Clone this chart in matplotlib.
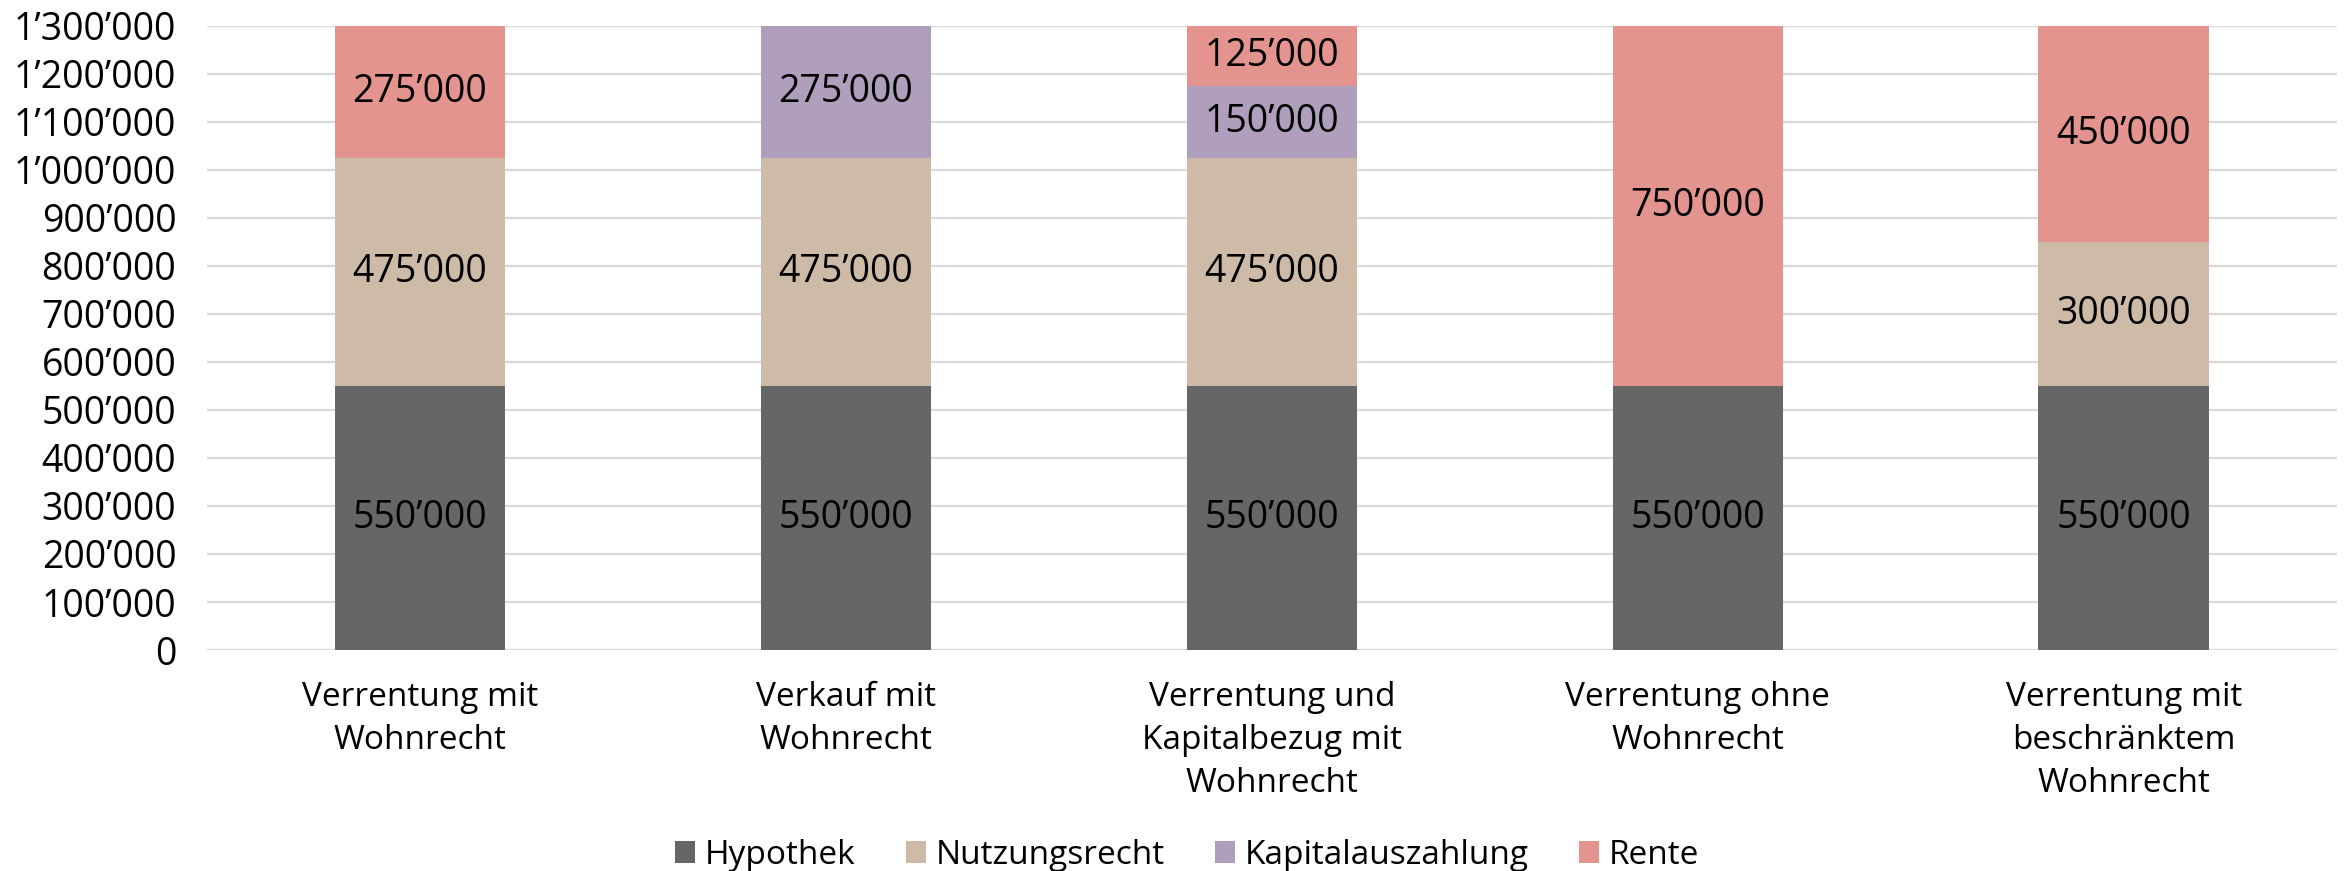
import numpy as np
import matplotlib
matplotlib.use("Agg")
import matplotlib.pyplot as plt

plt.rcParams['font.family'] = ['Open Sans', 'DejaVu Sans']

categories = ['Verrentung mit\nWohnrecht', 'Verkauf mit\nWohnrecht',
              'Verrentung und\nKapitalbezug mit\nWohnrecht', 'Verrentung ohne\nWohnrecht',
              'Verrentung mit\nbeschränktem\nWohnrecht']
series_names = ['Hypothek', 'Nutzungsrecht', 'Kapitalauszahlung', 'Rente']
hypothek = [550000, 550000, 550000, 550000, 550000]
nutzungsrecht = [475000, 475000, 475000, 0, 300000]
kapitalauszahlung = [0, 275000, 150000, 0, 0]
rente = [275000, 0, 125000, 750000, 450000]
yticks = np.arange(0, 1300001, 100000)

colors = ['#666666', '#cdbba8', '#af9fbd', '#e4948f']


def fmt(v):
    return f"{int(v):,}".replace(",", "\u2019")


fig = plt.figure(figsize=(23.46, 8.71), dpi=100)
ax = fig.add_axes([0.0882, 0.2537, 0.9078, 0.7168])

x = np.arange(len(categories))
bottom = np.zeros(len(categories))
fs = 27
fs_txt = 24
for name, vals, c in zip(series_names, [hypothek, nutzungsrecht, kapitalauszahlung, rente], colors):
    vals = np.array(vals, dtype=float)
    ax.bar(x, vals, 0.4, bottom=bottom, color=c, label=name, zorder=3)
    for xi, b, v in zip(x, bottom, vals):
        if v > 0:
            ax.text(xi, b + v / 2, fmt(v), ha='center', va='center', fontsize=fs, color='black', zorder=4)
    bottom += vals

ax.set_xlim(-0.5, len(categories) - 0.5)
ax.set_ylim(0, 1300000)
ax.set_yticks(yticks)
ax.set_yticklabels([fmt(v) for v in yticks], fontsize=fs)
ax.set_xticks(x)
ax.set_xticklabels(categories, fontsize=fs_txt, linespacing=1.4)
ax.tick_params(axis='both', length=0)
ax.tick_params(axis='y', pad=22)
ax.tick_params(axis='x', pad=22)
ax.yaxis.grid(True, color='#d9d9d9', linewidth=1.6, zorder=0)
for s in ax.spines.values():
    s.set_visible(False)

fig.legend(loc='center', bbox_to_anchor=(0.506, 0.018), ncol=4, frameon=False,
           fontsize=fs_txt, handlelength=0.6, handleheight=0.6, handletextpad=0.3,
           columnspacing=1.5)

fig.savefig('out.png', dpi=100)
